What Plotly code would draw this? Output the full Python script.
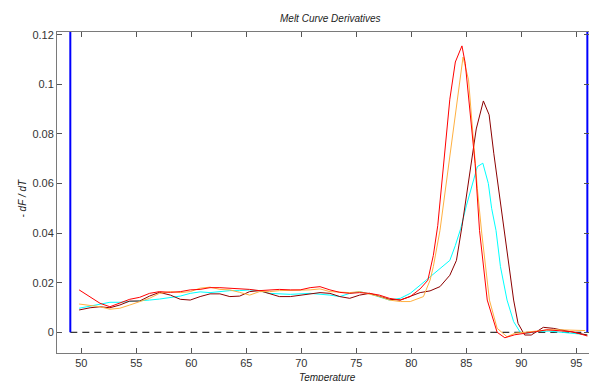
import plotly.graph_objects as go

# ---- data ----
red_t = [49.8, 50.8, 51.7, 52.6, 53.5, 54.4, 55.3, 56.2, 57.1, 58.1, 59.0, 59.9, 60.8, 61.7, 62.6, 63.5, 64.4, 65.3, 66.2, 67.1,
         68.0, 69.0, 69.9, 70.8, 71.7, 72.6, 73.5, 74.4, 75.3, 76.2, 77.1, 78.0, 79.0, 79.9, 80.8, 81.5, 82.0, 82.4, 83.0, 83.5,
         84.0, 84.6, 84.9, 85.5, 85.8, 86.2, 86.9, 87.8, 88.5, 89.4, 90.5, 91.4, 92.3, 93.5, 94.7, 96.0]
red_v = [0.0171, 0.0144, 0.0117, 0.0103, 0.0117, 0.0133, 0.0141, 0.0157, 0.0164, 0.0161, 0.0164, 0.0171, 0.0173, 0.0180, 0.0180,
         0.0178, 0.0175, 0.0173, 0.0168, 0.0171, 0.0173, 0.0171, 0.0171, 0.0180, 0.0184, 0.0171, 0.0161, 0.0157, 0.0160, 0.0157,
         0.0150, 0.0137, 0.0130, 0.0144, 0.0175, 0.0210, 0.0310, 0.0430, 0.0700, 0.0940, 0.1090, 0.1155, 0.1085, 0.0816, 0.0680,
         0.0410, 0.0130, 0.0000, -0.0022, -0.0010, -0.0004, 0.0003, 0.0010, 0.0006, 0.0002, -0.0015]

orange_t = [49.8, 50.8, 51.7, 52.6, 53.5, 54.4, 55.3, 56.2, 57.1, 58.1, 59.0, 59.9, 60.8, 61.7, 62.6, 63.5, 64.4, 65.3, 66.2, 67.1,
            68.0, 69.9, 70.8, 71.7, 72.6, 73.5, 74.4, 75.3, 76.2, 77.1, 78.0, 79.0, 79.9, 80.8, 81.1, 81.7, 82.0, 82.6, 83.2, 83.8,
            84.3, 84.7, 85.2, 85.6, 86.0, 86.4, 87.1, 87.8, 88.7, 89.4, 90.5, 91.5, 92.5, 93.5, 94.5, 95.8]
orange_v = [0.0114, 0.0109, 0.0103, 0.0093, 0.0097, 0.0110, 0.0124, 0.0137, 0.0157, 0.0164, 0.0160, 0.0164, 0.0178, 0.0182, 0.0173,
            0.0171, 0.0161, 0.0150, 0.0164, 0.0164, 0.0168, 0.0168, 0.0171, 0.0175, 0.0164, 0.0162, 0.0160, 0.0164, 0.0155, 0.0144,
            0.0130, 0.0124, 0.0124, 0.0137, 0.0144, 0.0210, 0.0265, 0.0410, 0.0610, 0.0820, 0.0980, 0.1110, 0.1018, 0.0800, 0.0580,
            0.0400, 0.0130, 0.0016, -0.0018, -0.0004, 0.0002, 0.0006, 0.0010, 0.0010, 0.0008, 0.0007]

cyan_t = [49.8, 50.8, 51.7, 52.6, 53.5, 54.4, 55.3, 56.2, 57.1, 58.1, 59.0, 59.9, 60.8, 61.7, 62.6, 63.5, 64.4, 65.3, 66.2, 67.1,
          69.0, 70.8, 72.6, 73.5, 74.4, 75.3, 76.2, 77.1, 78.0, 79.0, 79.9, 80.8, 81.7, 82.6, 83.5, 84.0, 84.5, 85.0, 85.5, 86.0,
          86.5, 87.0, 87.3, 87.7, 88.1, 88.7, 89.3, 89.9, 90.5, 91.5, 92.5, 93.5, 94.5, 96.0]
cyan_v = [0.0097, 0.0106, 0.0113, 0.0121, 0.0121, 0.0124, 0.0124, 0.0130, 0.0134, 0.0140, 0.0146, 0.0157, 0.0163, 0.0160, 0.0164,
          0.0168, 0.0168, 0.0171, 0.0167, 0.0157, 0.0153, 0.0157, 0.0150, 0.0144, 0.0157, 0.0164, 0.0155, 0.0144, 0.0130, 0.0137,
          0.0157, 0.0190, 0.0224, 0.0255, 0.0290, 0.0350, 0.0420, 0.0510, 0.0590, 0.0668, 0.0682, 0.0600, 0.0500, 0.0410, 0.0265,
          0.0130, 0.0043, 0.0000, -0.0004, 0.0003, 0.0005, 0.0001, -0.0005, -0.0010]

darkred_t = [49.8, 50.8, 51.7, 52.6, 53.5, 54.4, 55.3, 56.2, 57.1, 58.1, 59.0, 59.9, 60.8, 61.7, 62.6, 63.5, 64.4, 65.3, 66.2, 67.1,
             68.0, 69.0, 69.9, 70.8, 71.7, 72.6, 73.5, 74.4, 75.3, 76.2, 77.1, 78.0, 79.0, 79.9, 80.8, 81.7, 82.6, 83.5, 84.1, 84.6,
             85.0, 85.5, 85.9, 86.55, 87.07, 87.5, 88.06, 88.7, 89.3, 89.7, 90.3, 90.9, 91.5, 92.0, 92.9, 93.8, 94.7, 96.0]
darkred_v = [0.0090, 0.0099, 0.0103, 0.0099, 0.0110, 0.0126, 0.0126, 0.0146, 0.0161, 0.0150, 0.0133, 0.0130, 0.0144, 0.0155, 0.0155,
             0.0144, 0.0146, 0.0164, 0.0168, 0.0155, 0.0144, 0.0144, 0.0150, 0.0157, 0.0160, 0.0157, 0.0144, 0.0137, 0.0150, 0.0157,
             0.0144, 0.0133, 0.0130, 0.0146, 0.0160, 0.0167, 0.0184, 0.0230, 0.0290, 0.0426, 0.0550, 0.0700, 0.0820, 0.0933, 0.0877,
             0.0720, 0.0530, 0.0330, 0.0130, 0.0036, -0.0011, -0.0011, 0.0005, 0.0020, 0.0016, 0.0008, 0.0002, -0.0011]

region_bounds = [49, 96]
x_ticks = [50, 55, 60, 65, 70, 75, 80, 85, 90, 95]
y_ticks = [0, 0.02, 0.04, 0.06, 0.08, 0.10, 0.12]
y_ticklabels = ["0", "0.02", "0.04", "0.06", "0.08", "0.1", "0.12"]

x_range = [47.79, 96.15]
y_range = [-0.00835, 0.1211]

FONT = "Liberation Sans, Arial, Helvetica, sans-serif"

ML, MT, MR, MB = 57, 32, 0, 28
W, H = 589, 381
plot_w = W - ML - MR

fig = go.Figure()

# zero baseline (dashed)
fig.add_trace(go.Scatter(x=region_bounds, y=[0, 0], mode="lines",
                         line=dict(color="black", width=1, dash="7px,5px"), hoverinfo="skip"))

series = [
    (cyan_t, cyan_v, "#00FFFF"),
    (darkred_t, darkred_v, "#8B0000"),
    (orange_t, orange_v, "#FFB040"),
    (red_t, red_v, "#FF0000"),
]
for t, v, c in series:
    fig.add_trace(go.Scatter(x=t, y=v, mode="lines", line=dict(color=c, width=1), hoverinfo="skip"))

# blue region bounds
for b in region_bounds:
    fig.add_trace(go.Scatter(x=[b, b], y=[0, y_range[1]], mode="lines",
                             line=dict(color="#0000FF", width=2), hoverinfo="skip", cliponaxis=False))

fig.update_layout(
    width=W, height=H,
    margin=dict(l=ML, r=MR, t=MT, b=MB),
    paper_bgcolor="white", plot_bgcolor="white",
    showlegend=False,
    font=dict(family=FONT, size=11, color="#333333"),
    annotations=[
        dict(text="<i>Melt Curve Derivatives</i>", x=(330 - ML) / plot_w, y=1.0, xref="paper", yref="paper",
             showarrow=False, font=dict(size=10, color="#222222"), xanchor="center", yanchor="bottom", yshift=6),
        dict(text="<i>Temperature</i>", x=(327 - ML) / plot_w, y=0.0, xref="paper", yref="paper",
             showarrow=False, font=dict(size=10, color="#222222"), xanchor="center", yanchor="top", yshift=-17),
        dict(text="<i>- dF / dT</i>", x=0, y=0.5, xref="paper", yref="paper", textangle=-90,
             showarrow=False, font=dict(size=10, color="#222222"), xanchor="center", yanchor="middle",
             xshift=-35, yshift=-6),
    ],
)

fig.update_xaxes(range=x_range, tickvals=x_ticks, ticks="inside", ticklen=5, tickcolor="#555555",
                 showline=True, linecolor="#7a7a7a", linewidth=1, mirror="ticks",
                 showgrid=False, zeroline=False, tickfont=dict(size=11, color="#333333"))
fig.update_yaxes(range=y_range, tickvals=y_ticks, ticktext=y_ticklabels, ticks="inside", ticklen=5,
                 tickcolor="#555555", showline=True, linecolor="#7a7a7a", linewidth=1, mirror="ticks",
                 showgrid=False, zeroline=False, tickfont=dict(size=11, color="#333333"))

fig.write_html("out.html",
               config={"displayModeBar": False},
               post_script="document.body.style.margin='0';document.body.style.overflow='hidden';")
